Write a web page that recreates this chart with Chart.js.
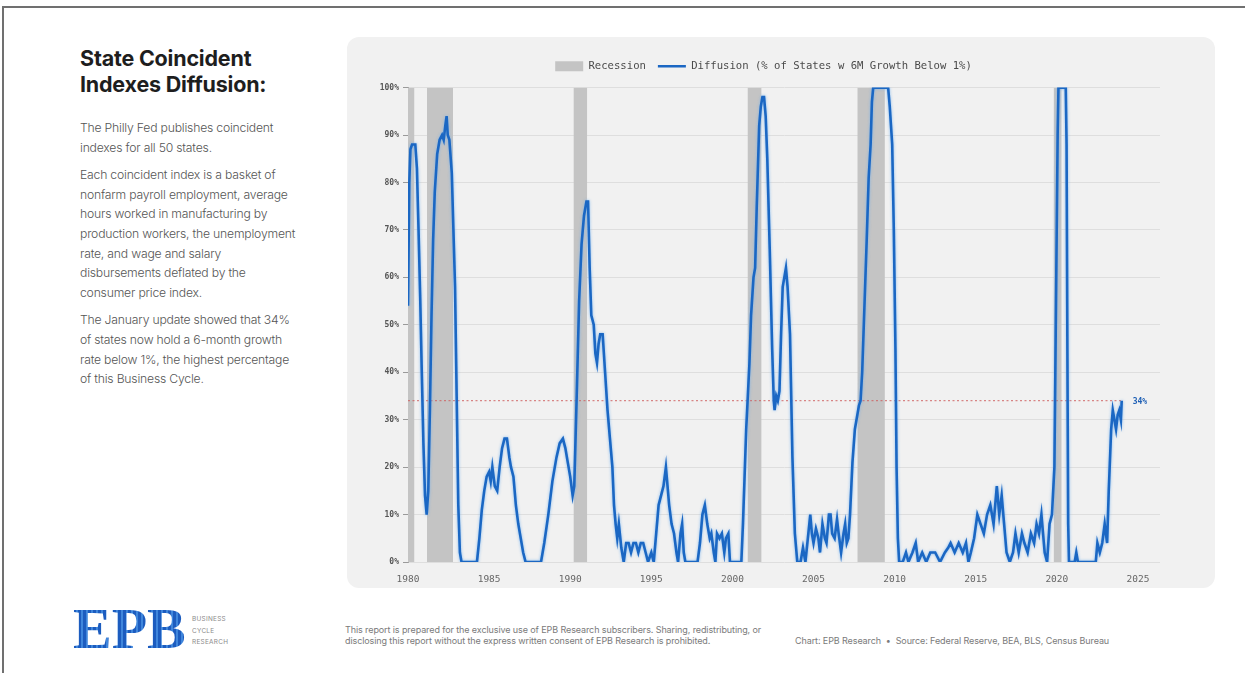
<!DOCTYPE html>
<html>
<head>
<meta charset="utf-8">
<script src="https://cdn.jsdelivr.net/npm/chart.js@4.4.1/dist/chart.umd.min.js"></script>
<style>
  html, body { margin: 0; padding: 0; background: #fff; }
  body { width: 1245px; height: 673px; position: relative; overflow: hidden; font-family: Inter, "Noto Sans", sans-serif; }
  .frame { position: absolute; left: 2px; top: 6px; width: 1260px; height: 700px; border-top: 2px solid #707070; border-left: 2px solid #707070; }
  .side { position: absolute; left: 80px; top: 45px; width: 260px; }
  .side h1 { font-size: 21.5px; font-weight: 700; line-height: 26px; margin: 0 0 21px 0; color: #1e1e1e; letter-spacing: -0.2px; }
  .side p { font-size: 12.2px; font-weight: 300; line-height: 19.6px; color: #555; margin: 0 0 8px 0; letter-spacing: -0.2px; }
  .panel { position: absolute; left: 347px; top: 37px; width: 868px; height: 551px; background: #f1f1f1; border-radius: 12px; }
  .panel canvas { position: absolute; left: 0; top: 0; }
  .logo { position: absolute; left: 73px; top: 600px; font-family: "Liberation Serif", "DejaVu Serif", serif; font-weight: 700; font-size: 58px; line-height: 58px; letter-spacing: 0px;
          background: repeating-linear-gradient(90deg, #1c5cbf 0 3px, #3f86dc 3px 5px); -webkit-background-clip: text; background-clip: text; color: transparent; }
  .tag { position: absolute; left: 192px; top: 614px; font-size: 6.4px; line-height: 11.5px; color: #8a8a8a; letter-spacing: 0.3px; font-weight: 400; }
  .legal { position: absolute; left: 345px; top: 624px; font-size: 9px; line-height: 11px; color: #7a7a7a; letter-spacing: -0.1px; white-space: nowrap; }
  .credit { position: absolute; left: 795px; top: 635px; font-size: 9px; line-height: 11px; color: #7a7a7a; letter-spacing: -0.1px; white-space: nowrap; }
</style>
</head>
<body>
<div class="frame"></div>

<div class="side">
  <h1>State Coincident<br>Indexes Diffusion:</h1>
  <p>The Philly Fed publishes coincident<br>indexes for all 50 states.</p>
  <p>Each coincident index is a basket of<br>nonfarm payroll employment, average<br>hours worked in manufacturing by<br>production workers, the unemployment<br>rate, and wage and salary<br>disbursements deflated by the<br>consumer price index.</p>
  <p>The January update showed that 34%<br>of states now hold a 6-month growth<br>rate below 1%, the highest percentage<br>of this Business Cycle.</p>
</div>

<div class="panel"><canvas id="chart" width="890" height="551"></canvas></div>

<div class="logo">EPB</div>
<div class="tag">BUSINESS<br>CYCLE<br>RESEARCH</div>
<div class="legal">This report is prepared for the exclusive use of EPB Research subscribers. Sharing, redistributing, or<br>disclosing this report without the express written consent of EPB Research is prohibited.</div>
<div class="credit">Chart: EPB Research &nbsp;•&nbsp; Source: Federal Reserve, BEA, BLS, Census Bureau</div>

<script>
// Share of states whose 6-month coincident index growth is below 1% (decimal year, percent)
const years = [
  1980.00, 1980.08, 1980.15, 1980.25, 1980.45, 1980.55, 1980.65, 1980.75, 1980.85, 1980.95,
  1981.05, 1981.15, 1981.25, 1981.35, 1981.45, 1981.55, 1981.65, 1981.80, 1981.95, 1982.10,
  1982.20, 1982.30, 1982.38, 1982.45, 1982.55, 1982.70, 1982.80, 1982.90, 1983.00, 1983.10,
  1983.20, 1983.30, 1984.25, 1984.40, 1984.55, 1984.70, 1984.85, 1985.00, 1985.10, 1985.20,
  1985.35, 1985.50, 1985.65, 1985.80, 1985.95, 1986.10, 1986.25, 1986.35, 1986.50, 1986.65,
  1986.80, 1986.95, 1987.10, 1987.25, 1988.20, 1988.40, 1988.65, 1988.90, 1989.15, 1989.35,
  1989.55, 1989.70, 1989.85, 1990.00, 1990.15, 1990.25, 1990.40, 1990.55, 1990.70, 1990.85,
  1991.00, 1991.10, 1991.20, 1991.30, 1991.45, 1991.55, 1991.65, 1991.75, 1991.85, 1992.00,
  1992.15, 1992.30, 1992.45, 1992.60, 1992.70, 1992.80, 1992.90, 1993.00, 1993.15, 1993.30,
  1993.45, 1993.60, 1993.75, 1993.90, 1994.05, 1994.20, 1994.35, 1994.50, 1994.65, 1994.80,
  1995.00, 1995.15, 1995.30, 1995.45, 1995.60, 1995.75, 1995.90, 1996.00, 1996.10, 1996.25,
  1996.40, 1996.55, 1996.65, 1996.80, 1996.90, 1997.00, 1997.10, 1997.85, 1998.00, 1998.15,
  1998.30, 1998.45, 1998.60, 1998.70, 1998.85, 1998.95, 1999.05, 1999.20, 1999.35, 1999.50,
  1999.60, 1999.75, 1999.85, 2000.55, 2000.65, 2000.75, 2000.85, 2000.95, 2001.05, 2001.15,
  2001.30, 2001.40, 2001.50, 2001.65, 2001.75, 2001.85, 2001.95, 2002.05, 2002.15, 2002.30,
  2002.45, 2002.55, 2002.60, 2002.70, 2002.80, 2002.90, 2003.00, 2003.10, 2003.20, 2003.30,
  2003.40, 2003.55, 2003.70, 2003.85, 2004.00, 2004.20, 2004.35, 2004.50, 2004.65, 2004.80,
  2004.90, 2005.00, 2005.15, 2005.30, 2005.40, 2005.55, 2005.70, 2005.80, 2005.95, 2006.05,
  2006.15, 2006.30, 2006.45, 2006.55, 2006.70, 2006.85, 2006.95, 2007.05, 2007.15, 2007.25,
  2007.40, 2007.55, 2007.65, 2007.80, 2007.90, 2008.00, 2008.10, 2008.20, 2008.28, 2008.40,
  2008.52, 2008.60, 2008.68, 2009.60, 2009.70, 2009.85, 2009.95, 2010.05, 2010.12, 2010.20,
  2010.28, 2010.50, 2010.70, 2010.85, 2011.10, 2011.30, 2011.45, 2011.70, 2011.95, 2012.20,
  2012.50, 2012.80, 2013.10, 2013.30, 2013.45, 2013.70, 2013.95, 2014.20, 2014.40, 2014.55,
  2014.70, 2014.90, 2015.10, 2015.30, 2015.50, 2015.70, 2015.90, 2016.10, 2016.30, 2016.45,
  2016.60, 2016.75, 2016.90, 2017.10, 2017.30, 2017.45, 2017.65, 2017.85, 2018.00, 2018.20,
  2018.40, 2018.60, 2018.75, 2018.90, 2019.05, 2019.25, 2019.40, 2019.55, 2019.70, 2019.85,
  2019.95, 2020.05, 2020.10, 2020.55, 2020.60, 2020.65, 2020.70, 2020.75, 2021.10, 2021.20,
  2021.30, 2022.40, 2022.50, 2022.65, 2022.80, 2022.95, 2023.10, 2023.20, 2023.35, 2023.45,
  2023.55, 2023.65, 2023.75, 2023.85, 2023.95, 2024.00
];
const diffusion = [
  54, 80, 87, 88, 88, 83, 70, 56, 40, 25,
  14, 10, 15, 32, 52, 68, 78, 86, 89, 90,
  89, 92, 94, 90, 89, 82, 70, 58, 35, 12,
  2, 0, 0, 5, 11, 15, 18, 19, 17, 20,
  16, 15, 20, 24, 26, 26, 22, 20, 18, 12,
  8, 5, 2, 0, 0, 4, 10, 17, 22, 25,
  26, 24, 21, 18, 14, 16, 35, 55, 67, 73,
  76, 76, 62, 52, 50, 44, 42, 46, 48, 48,
  40, 32, 26, 20, 12, 8, 5, 8, 3, 0,
  4, 4, 2, 4, 4, 2, 4, 4, 2, 0,
  2, 0, 6, 12, 14, 16, 20, 16, 12, 8,
  6, 2, 0, 6, 8, 2, 0, 0, 4, 10,
  12, 8, 5, 6, 2, 0, 6, 5, 6, 2,
  5, 6, 0, 0, 8, 18, 28, 35, 42, 52,
  60, 62, 75, 92, 96, 98, 98, 94, 85, 66,
  45, 34, 32, 35, 34, 36, 48, 58, 60, 62,
  58, 48, 22, 6, 0, 0, 3, 0, 5, 10,
  6, 4, 7, 5, 2, 8, 5, 4, 10, 10,
  6, 5, 9, 6, 2, 6, 8, 4, 5, 10,
  21, 28, 30, 33, 34, 40, 50, 60, 68, 81,
  88, 97, 100, 100, 96, 88, 70, 45, 20, 5,
  0, 0, 2, 0, 2, 4, 0, 2, 0, 2,
  2, 0, 2, 3, 4, 2, 4, 2, 4, 0,
  2, 5, 10, 8, 6, 10, 12, 8, 16, 10,
  14, 8, 2, 0, 2, 6, 2, 6, 4, 2,
  6, 4, 8, 6, 10, 2, 0, 8, 10, 20,
  55, 90, 100, 100, 88, 45, 8, 0, 0, 2,
  0, 0, 4, 2, 4, 8, 4, 15, 28, 32,
  30, 28, 31, 32, 30, 34
];

// NBER recessions as drawn (decimal years)
const recessionStart = [1980.00, 1981.17, 1990.20, 2000.93, 2007.70, 2019.80];
const recessionEnd   = [1980.40, 1982.78, 1991.05, 2001.80, 2009.40, 2020.30];

const yearTicks = [1980, 1985, 1990, 1995, 2000, 2005, 2010, 2015, 2020, 2025];
const percentTicks = [0, 10, 20, 30, 40, 50, 60, 70, 80, 90, 100];

const seriesLabel = 'Diffusion (% of States w 6M Growth Below 1%)';
const recessionLabel = 'Recession';

const lineBlue = '#1b67c3';
const mono = '"DejaVu Sans Mono", "Liberation Mono", monospace';

const diffusionPoints = years.map((x, i) => ({ x, y: diffusion[i] }));
const recessionPoints = [];
recessionStart.forEach((s, i) => {
  recessionPoints.push({ x: s, y: 100 }, { x: recessionEnd[i], y: 100 }, { x: recessionEnd[i], y: null });
});
const latestYear = years[years.length - 1];
const latestValue = diffusion[diffusion.length - 1];
const latestPoints = [{ x: years[0], y: latestValue }, { x: latestYear, y: latestValue }];

// soft glow under the diffusion line
const glow = {
  id: 'glow',
  beforeDatasetDraw(chart, args) {
    if (args.index !== 1) return;
    const ctx = chart.ctx;
    ctx.save();
    ctx.shadowColor = 'rgba(110,175,240,0.85)';
    ctx.shadowBlur = 3;
  },
  afterDatasetDraw(chart, args) {
    if (args.index !== 1) return;
    chart.ctx.restore();
  }
};

// value tag at the end of the series
const endTag = {
  id: 'endTag',
  afterDatasetsDraw(chart) {
    const { ctx, scales: { x, y } } = chart;
    ctx.save();
    ctx.font = 'bold 8px ' + mono;
    ctx.fillStyle = '#1d5fb5';
    ctx.textBaseline = 'middle';
    ctx.fillText(latestValue + '%', x.getPixelForValue(latestYear) + 11, y.getPixelForValue(latestValue) + 1);
    ctx.restore();
  }
};

new Chart(document.getElementById('chart'), {
  type: 'line',
  data: {
    datasets: [
      {
        label: recessionLabel,
        data: recessionPoints,
        backgroundColor: '#c4c4c4',
        borderColor: 'rgba(0,0,0,0)',
        borderWidth: 0,
        pointRadius: 0,
        fill: 'origin',
        spanGaps: false,
        pointStyle: 'rect'
      },
      {
        label: seriesLabel,
        data: diffusionPoints,
        borderColor: lineBlue,
        backgroundColor: lineBlue,
        borderWidth: 2.6,
        pointRadius: 0,
        tension: 0,
        fill: false,
        pointStyle: 'line'
      },
      {
        label: '',
        data: latestPoints,
        borderColor: 'rgba(205,95,95,0.75)',
        borderWidth: 1.2,
        borderDash: [2, 2.5],
        pointRadius: 0,
        fill: false
      }
    ]
  },
  options: {
    responsive: false,
    animation: false,
    events: [],
    layout: { padding: { left: 20, right: 77, top: 12, bottom: 0 } },
    plugins: {
      filler: { drawTime: 'beforeDatasetsDraw' },
      tooltip: { enabled: false },
      legend: {
        position: 'top',
        labels: {
          usePointStyle: true,
          pointStyleWidth: 28,
          boxHeight: 10,
          padding: 12,
          color: '#4a4a4a',
          font: { family: mono, size: 10.6 },
          filter: item => item.text !== ''
        }
      }
    },
    scales: {
      x: {
        type: 'linear',
        min: 1980,
        max: 2026.36,
        afterBuildTicks: axis => { axis.ticks = yearTicks.map(v => ({ value: v })); },
        afterFit: axis => { axis.height = 26; },
        grid: { display: false },
        border: { display: false },
        ticks: {
          padding: 4,
          maxRotation: 0,
          color: '#666',
          font: { family: mono, size: 9.5 },
          callback: v => String(v)
        }
      },
      // empty top strip that spaces the plot below the legend
      xTop: {
        type: 'linear',
        position: 'top',
        min: 1980,
        max: 2026.36,
        afterBuildTicks: axis => { axis.ticks = []; },
        afterFit: axis => { axis.height = 6; },
        grid: { display: false },
        border: { display: false },
        ticks: { display: false }
      },
      y: {
        min: 0,
        max: 100,
        afterBuildTicks: axis => { axis.ticks = percentTicks.map(v => ({ value: v })); },
        afterFit: axis => { axis.width = 41; },
        grid: { color: '#dedede', lineWidth: 1, tickColor: '#9a9a9a', tickLength: 5, drawTicks: true },
        border: { display: true, color: '#a6a6a6', width: 1 },
        ticks: {
          padding: 4,
          color: '#555',
          font: { family: mono, size: 8, weight: 'bold' },
          callback: v => v + '%'
        }
      }
    }
  },
  plugins: [glow, endTag]
});
</script>
</body>
</html>
